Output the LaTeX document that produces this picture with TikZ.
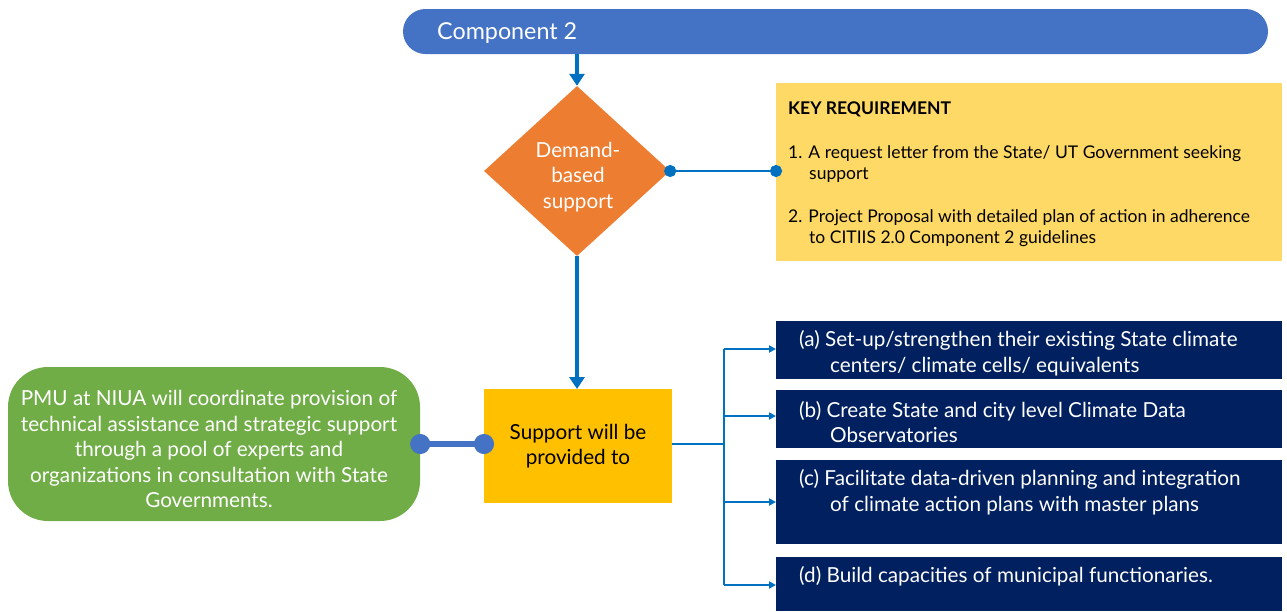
\documentclass[tikz,border=0pt]{standalone}
\usepackage{fontspec}
\setmainfont{Lato}
\usetikzlibrary{shapes.geometric,arrows.meta}
\definecolor{compblue}{HTML}{4472C4}
\definecolor{linkblue}{HTML}{0070C0}
\definecolor{dmorange}{HTML}{ED7D31}
\definecolor{keyyellow}{HTML}{FFD966}
\definecolor{supgold}{HTML}{FFC000}
\definecolor{pmugreen}{HTML}{70AD47}
\definecolor{navy}{HTML}{002060}
\tikzset{
  box/.style={draw=none, inner sep=0pt, anchor=north west},
  mainfont/.style={font=\fontsize{20.7}{25.5}\selectfont},
  keyfont/.style={font=\fontsize{17.5}{21}\selectfont},
  bigarrow/.style={draw=linkblue, line width=4.5pt, -{Triangle[width=15pt,length=12pt]}},
  treearrow/.style={draw=linkblue, line width=2.2pt, -{Triangle[width=7pt,length=7pt]}},
  treeline/.style={draw=linkblue, line width=2.2pt},
  dotlink/.style={draw=linkblue, line width=2.8pt, {Circle[length=12pt]}-{Circle[length=12pt]}, shorten <=-6pt, shorten >=-6pt},
  fatlink/.style={draw=compblue, line width=6pt, {Circle[length=20pt]}-{Circle[length=20pt]}, shorten <=-10pt, shorten >=-10pt},
  navytext/.style={anchor=west, inner sep=0pt, align=left, text=white, mainfont},
}
\begin{document}
\begin{tikzpicture}[x=1pt,y=-1pt]
\useasboundingbox (0,0) rectangle (1287,611);
% Component 2 bar
\node[fill=compblue, rounded corners=22.5pt, minimum width=865pt, minimum height=45pt, inner sep=0pt] (comp) at (835.5,31.5) {};
\node[anchor=west, text=white, inner sep=0pt, font=\fontsize{23.3}{28}\selectfont] (comptxt) at (437,33) {Component 2};
% Diamond
\node[diamond, fill=dmorange, minimum width=186pt, minimum height=170pt, inner sep=0pt] (dm) at (577,171) {};
\node[text=white, align=center, mainfont, inner sep=0pt] (dmtxt) at (578,177) {Demand-\\based\\support};
% Key requirement box
\node[box, fill=keyyellow, minimum width=506pt, minimum height=178pt] (key) at (776,83) {};
\node[anchor=north west, inner sep=0pt, keyfont, align=left] (keytxt) at (788,102) {%
\textbf{KEY REQUIREMENT}\\[23pt]
1. A request letter from the State/ UT Government seeking\\
\hspace*{21pt}support\\[22pt]
2. Project Proposal with detailed plan of action in adherence\\
\hspace*{21pt}to CITIIS 2.0 Component 2 guidelines};
% Support box
\node[box, fill=supgold, minimum width=188pt, minimum height=114pt] (sup) at (484,389) {};
\node[align=center, mainfont, inner sep=0pt] (suptxt) at (578,446) {Support will be\\provided to};
% PMU green box
\node[fill=pmugreen, rounded corners=40pt, minimum width=412pt, minimum height=154pt, inner sep=0pt] (pmu) at (214,444) {};
\node[align=center, text=white, mainfont, inner sep=0pt] (pmutxt) at (209,449) {PMU at NIUA will coordinate provision of\\technical assistance and strategic support\\through a pool of experts and\\organizations in consultation with State\\Governments.};
% Navy boxes
\node[box, fill=navy, minimum width=506pt, minimum height=58pt] (na) at (776,321) {};
\node[box, fill=navy, minimum width=506pt, minimum height=58pt] (nb) at (776,390) {};
\node[box, fill=navy, minimum width=506pt, minimum height=84pt] (nc) at (776,460) {};
\node[box, fill=navy, minimum width=506pt, minimum height=54pt] (nd) at (776,557) {};
\node[navytext] (ta) at (799,353) {(a) Set-up/strengthen their existing State climate\\\hspace*{31pt}centers/ climate cells/ equivalents};
\node[navytext] (tb) at (799,422) {(b) Create State and city level Climate Data\\\hspace*{31pt}Observatories};
\node[navytext] (tc) at (799,492) {(c) Facilitate data-driven planning and integration\\\hspace*{31pt}of climate action plans with master plans};
\node[navytext] (td) at (799,576) {(d) Build capacities of municipal functionaries.};
% connectors
\draw[bigarrow] (comp.south -| dm.north) -- (dm.north);
\draw[bigarrow] (dm.south) -- (sup.north -| dm.south);
\draw[dotlink] (dm.east) -- (key.west |- dm.east);
\draw[fatlink] (pmu.east) -- (sup.west |- pmu.east);
\coordinate (fork) at (724,444);
\draw[treeline] (sup.east |- fork) -- (fork);
\draw[treeline] (724,349) -- (724,585);
\draw[treearrow] (724,349) -- (na.west |- 0,349);
\draw[treearrow] (724,416) -- (nb.west |- 0,416);
\draw[treearrow] (724,502) -- (nc.west |- 0,502);
\draw[treearrow] (724,585) -- (nd.west |- 0,585);
\end{tikzpicture}
\end{document}
